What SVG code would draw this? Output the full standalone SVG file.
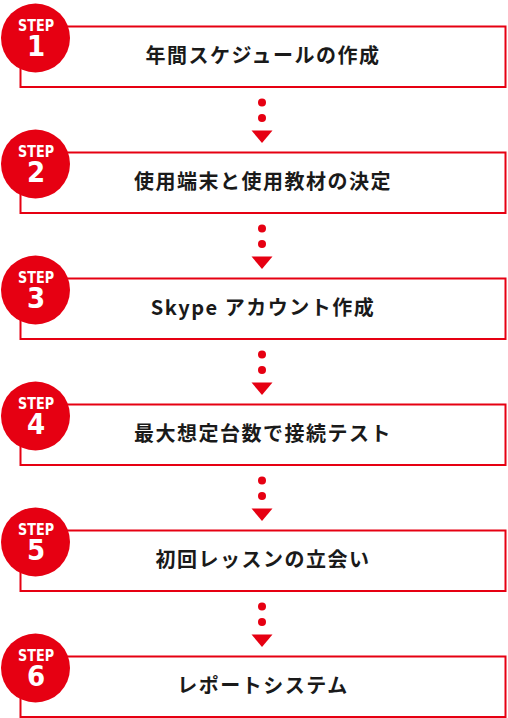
<svg xmlns="http://www.w3.org/2000/svg" width="508" height="718" viewBox="0 0 508 718">
<defs>
<style>
.box{fill:#fff;stroke:#e60012;stroke-width:2}
.badge{fill:#e60012}
.badge-text{fill:#fff;font-family:"DejaVu Sans Condensed","DejaVu Sans",sans-serif;font-weight:bold;text-anchor:middle}
.step{font-size:16px}
.num{font-size:29px}
.label{fill:#1a1a1a;font-family:"Noto Sans CJK JP","Noto Sans",sans-serif;font-weight:bold;font-size:20px;letter-spacing:1.5px}
.dot{fill:#e60012}
</style>
<g id="connector-shape">
<circle cx="262" cy="0" r="4"/>
<circle cx="262" cy="15.5" r="4"/>
<polygon points="251.5,28 272.5,28 262,40.5"/>
</g>
</defs>
<rect width="508" height="718" fill="#fff"/>
<g id="connectors" class="dot">
<use href="#connector-shape" y="102.5"/>
<use href="#connector-shape" y="228.5"/>
<use href="#connector-shape" y="354.5"/>
<use href="#connector-shape" y="480.5"/>
<use href="#connector-shape" y="606.5"/>
</g>
<g id="step1">
<rect class="box" x="20.5" y="26.5" width="485" height="60.5"/>
<circle class="badge" cx="35.5" cy="38" r="34.5"/>
<text class="badge-text"><tspan class="step" x="36" y="31" textLength="36" lengthAdjust="spacingAndGlyphs">STEP</tspan><tspan class="num" x="36" y="56">1</tspan></text>
<text class="label" x="263" y="63" text-anchor="middle">年間スケジュールの作成</text>
</g>
<g id="step2">
<rect class="box" x="20.5" y="152.5" width="485" height="60.5"/>
<circle class="badge" cx="35.5" cy="164" r="34.5"/>
<text class="badge-text"><tspan class="step" x="36" y="157" textLength="36" lengthAdjust="spacingAndGlyphs">STEP</tspan><tspan class="num" x="36" y="182">2</tspan></text>
<text class="label" x="263" y="189" text-anchor="middle">使用端末と使用教材の決定</text>
</g>
<g id="step3">
<rect class="box" x="20.5" y="278.5" width="485" height="60.5"/>
<circle class="badge" cx="35.5" cy="290" r="34.5"/>
<text class="badge-text"><tspan class="step" x="36" y="283" textLength="36" lengthAdjust="spacingAndGlyphs">STEP</tspan><tspan class="num" x="36" y="308">3</tspan></text>
<text class="label" x="263" y="315" text-anchor="middle">Skype アカウント作成</text>
</g>
<g id="step4">
<rect class="box" x="20.5" y="404.5" width="485" height="60.5"/>
<circle class="badge" cx="35.5" cy="416" r="34.5"/>
<text class="badge-text"><tspan class="step" x="36" y="409" textLength="36" lengthAdjust="spacingAndGlyphs">STEP</tspan><tspan class="num" x="36" y="434">4</tspan></text>
<text class="label" x="263" y="441" text-anchor="middle">最大想定台数で接続テスト</text>
</g>
<g id="step5">
<rect class="box" x="20.5" y="530.5" width="485" height="60.5"/>
<circle class="badge" cx="35.5" cy="542" r="34.5"/>
<text class="badge-text"><tspan class="step" x="36" y="535" textLength="36" lengthAdjust="spacingAndGlyphs">STEP</tspan><tspan class="num" x="36" y="560">5</tspan></text>
<text class="label" x="263" y="567" text-anchor="middle">初回レッスンの立会い</text>
</g>
<g id="step6">
<rect class="box" x="20.5" y="656.5" width="485" height="60.5"/>
<circle class="badge" cx="35.5" cy="668" r="34.5"/>
<text class="badge-text"><tspan class="step" x="36" y="661" textLength="36" lengthAdjust="spacingAndGlyphs">STEP</tspan><tspan class="num" x="36" y="686">6</tspan></text>
<text class="label" x="263" y="693" text-anchor="middle">レポートシステム</text>
</g>
</svg>
